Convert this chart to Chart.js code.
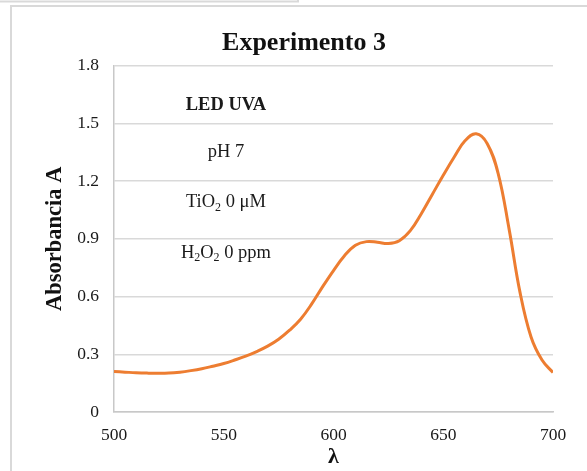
<!DOCTYPE html>
<html>
<head>
<meta charset="utf-8">
<script src="https://cdn.jsdelivr.net/npm/chart.js@4"></script>
<style>
  html, body { margin: 0; padding: 0; background: #fff; }
  #wrap { width: 587px; height: 471px; }
</style>
</head>
<body>
<div id="wrap"><canvas id="grafica" width="587" height="471"></canvas></div>
<script>
// longitud de onda (nm) y absorbancia
const lambdas = [500, 505, 510, 515, 520, 525, 530, 535, 540, 545, 550, 555, 560, 565, 570, 575, 580, 585, 590, 595,
  600, 605, 610, 615, 620, 625, 630, 635, 640, 645, 650, 655, 660, 665, 670, 675, 680, 685, 690, 695, 700];
const absorbancia = [0.210, 0.207, 0.204, 0.202, 0.201, 0.202, 0.207, 0.215, 0.225, 0.238, 0.252, 0.270, 0.290, 0.314, 0.342,
  0.378, 0.425, 0.482, 0.560, 0.650, 0.735, 0.812, 0.866, 0.885, 0.882, 0.875, 0.890, 0.942, 1.030, 1.130,
  1.230, 1.325, 1.410, 1.445, 1.395, 1.240, 0.950, 0.620, 0.390, 0.270, 0.205];
const xTicks = [500, 550, 600, 650, 700];
const yTicks = [0, 0.3, 0.6, 0.9, 1.2, 1.5, 1.8];
const titulo = "Experimento 3";

// texto de condiciones: [partes] con subindices marcados como sub
const condiciones = [
  {y: 1.595, bold: true, partes: [["LED UVA", false]]},
  {y: 1.352, bold: false, partes: [["pH 7", false]]},
  {y: 1.088, bold: false, partes: [["TiO", false], ["2", true], [" 0 \u03bcM", false]]},
  {y: 0.827, bold: false, partes: [["H", false], ["2", true], ["O", false], ["2", true], [" 0 ppm", false]]}
];
const xCondiciones = 551;

const fuente = "'Liberation Serif', 'Times New Roman', serif";

const marco = {
  id: "marco",
  beforeDraw(chart) {
    const ctx = chart.ctx;
    ctx.save();
    ctx.strokeStyle = "#d9d9d9";
    ctx.lineWidth = 2;
    ctx.beginPath();
    ctx.moveTo(0, 1.5); ctx.lineTo(298, 1.5); ctx.lineTo(298, 0);
    ctx.stroke();
    ctx.strokeRect(11, 6, 700, 600);
    // titulo del grafico (centrado sobre el area del grafico completo)
    ctx.fillStyle = "#111";
    ctx.font = "bold 26px " + fuente;
    ctx.textAlign = "center";
    ctx.textBaseline = "middle";
    ctx.fillText(titulo, 304, 43);
    ctx.restore();
  }
};

const textoCondiciones = {
  id: "textoCondiciones",
  afterDatasetsDraw(chart) {
    const ctx = chart.ctx;
    const xs = chart.scales.x, ys = chart.scales.y;
    const size = 18.5;
    ctx.save();
    ctx.fillStyle = "#1a1a1a";
    ctx.textBaseline = "middle";
    condiciones.forEach(c => {
      const peso = c.bold ? "bold " : "";
      let total = 0;
      c.partes.forEach(p => {
        ctx.font = peso + (p[1] ? size * 0.65 : size) + "px " + fuente;
        total += ctx.measureText(p[0]).width;
      });
      let x = xs.getPixelForValue(xCondiciones) - total / 2;
      const y = ys.getPixelForValue(c.y);
      c.partes.forEach(p => {
        ctx.font = peso + (p[1] ? size * 0.65 : size) + "px " + fuente;
        ctx.textAlign = "left";
        ctx.fillText(p[0], x, p[1] ? y + 5 : y);
        x += ctx.measureText(p[0]).width;
      });
    });
    ctx.restore();
  }
};

new Chart("grafica", {
  type: "line",
  data: {
    datasets: [{
      data: lambdas.map((l, i) => ({x: l, y: absorbancia[i]})),
      borderColor: "#ED7D31",
      borderWidth: 3,
      pointRadius: 0,
      tension: 0.4,
      fill: false
    }]
  },
  options: {
    responsive: false,
    animation: false,
    layout: {padding: {left: 0, right: 34, top: 65.5, bottom: 0}},
    plugins: {
      legend: {display: false},
      tooltip: {enabled: false},
      title: {display: false}
    },
    scales: {
      x: {
        type: "linear",
        min: 500, max: 700,
        afterFit(s) { s.height = 59; },
        afterBuildTicks(s) { s.ticks = xTicks.map(v => ({value: v})); },
        grid: {display: false, drawTicks: false},
        border: {display: true, color: "#c8c8c8", width: 1.5},
        ticks: {color: "#1a1a1a", padding: 13, maxRotation: 0, font: {family: fuente, size: 17.5}},
        title: {display: true, text: "\u03bb", color: "#111", padding: {top: 0, bottom: 0},
          font: {family: fuente, size: 22, weight: "bold"}}
      },
      y: {
        min: 0, max: 1.8,
        afterFit(s) { s.width = 114; },
        afterBuildTicks(s) { s.ticks = yTicks.map(v => ({value: v})); },
        grid: {color: "#d9d9d9", lineWidth: 1.5, drawTicks: false},
        border: {display: true, color: "#c8c8c8", width: 1.5},
        ticks: {color: "#1a1a1a", padding: 15, font: {family: fuente, size: 17.5},
          callback: v => v === 0 ? "0" : v.toFixed(1)},
        title: {display: true, text: "Absorbancia A", color: "#111", padding: {top: 41.5, bottom: 0},
          font: {family: fuente, size: 22.5, weight: "bold"}}
      }
    }
  },
  plugins: [marco, textoCondiciones]
});
</script>
</body>
</html>
